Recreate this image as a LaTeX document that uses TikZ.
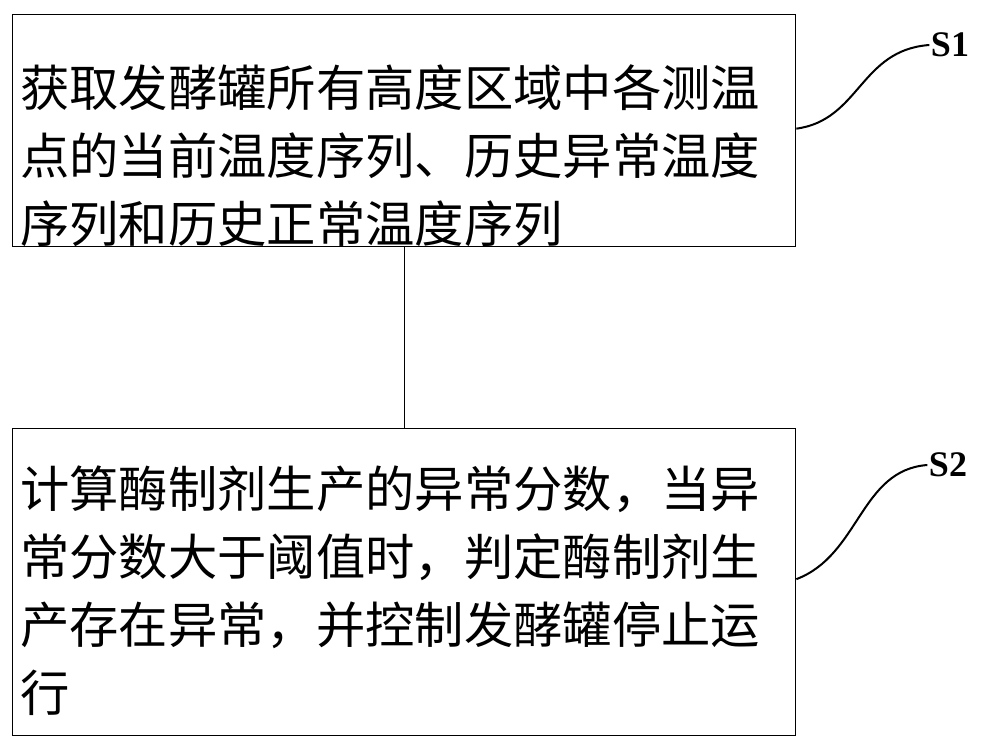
\documentclass[tikz,border=0pt]{standalone}
\usepackage{fontspec}
\setmainfont{Liberation Serif}
\newfontfamily\cjk{Noto Sans CJK SC}
\usetikzlibrary{positioning}

\begin{document}
\begin{tikzpicture}[x=0.75pt, y=-0.75pt]
    % Define styles
    \tikzset{
        stepbox/.style={rectangle, draw, line width=1pt, minimum width=783*0.75pt, inner sep=0pt},
        steptext/.style={align=left, inner sep=0pt, anchor=north west,
            font=\cjk\fontsize{37pt}{51pt}\selectfont},
        tag/.style={font=\bfseries\fontsize{27pt}{30pt}\selectfont, inner sep=1pt},
        line/.style={draw, line width=1pt}
    }
    \useasboundingbox (0,0) rectangle (1000,748);

    % Place nodes
    \node [stepbox, minimum height=232*0.75pt, anchor=north west] (s1) at (12,14) {};
    \node [stepbox, minimum height=307*0.75pt, anchor=north west] (s2) at (12,428) {};
    \node [steptext] (txt1) at (20,64)
        {获取发酵罐所有高度区域中各测温\\点的当前温度序列、历史异常温度\\序列和历史正常温度序列};
    \node [steptext] (txt2) at (20,466)
        {计算酶制剂生产的异常分数，当异\\常分数大于阈值时，判定酶制剂生\\产存在异常，并控制发酵罐停止运\\行};

    \node [tag] (t1) at (950,45) {S1};
    \node [tag] (t2) at (948,465) {S2};

    % Draw edges
    \path [line] (s1) -- (s2);
    \draw [line width=1.5pt] (s1.east) ++(0,-2) coordinate (c1)
        (c1) .. controls (860,120) and (860,50) .. (t1.west);
    \draw [line width=1.5pt] (s2.east) ++(0,-3) coordinate (c2)
        (c2) .. controls (860,555) and (860,470) .. (t2.west);
\end{tikzpicture}
\end{document}
